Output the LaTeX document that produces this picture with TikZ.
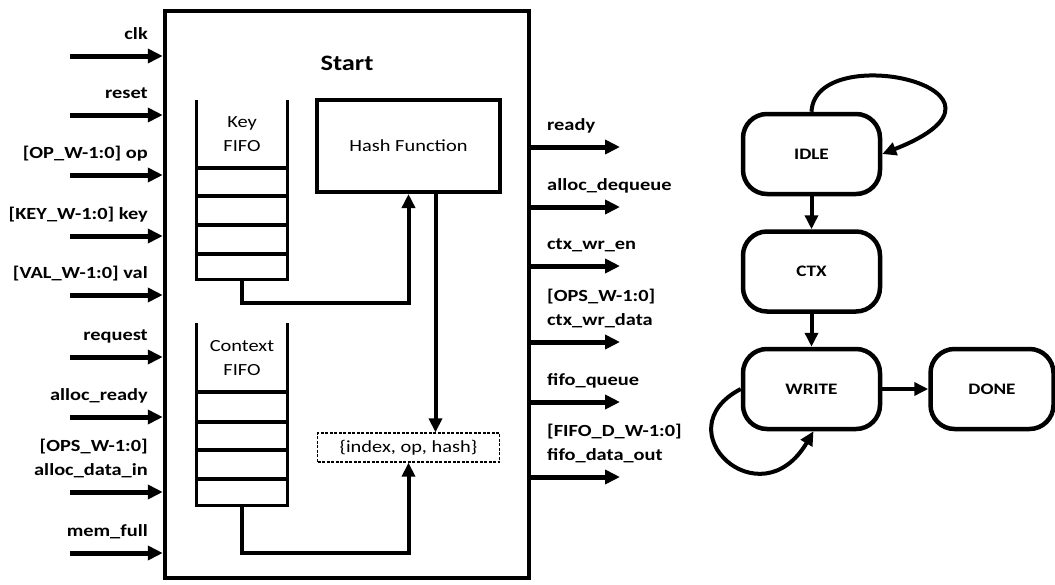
\documentclass[tikz,border=0pt]{standalone}
\usepackage{fontspec}
\setmainfont{Carlito}[FakeStretch=1.2]
\usepackage{tikz}
\usetikzlibrary{arrows.meta,positioning}

\begin{document}
\begin{tikzpicture}[x=1pt, y=-1pt, font=\fontsize{17}{24}\selectfont]
        \tikzstyle{arrow} = [-{Triangle[length=15pt,width=14pt]}, line width=5pt]
        \tikzstyle{wire} = [-{Triangle[length=14pt,width=13pt]}, line width=4pt]
        \tikzstyle{inport} = [anchor=south east, inner sep=0pt, text depth=0pt, align=right, font=\fontsize{17}{24}\selectfont\bfseries]
        \tikzstyle{outport} = [anchor=south west, inner sep=0pt, text depth=0pt, align=left, font=\fontsize{17}{24}\selectfont\bfseries]
        \tikzstyle{fifo} = [rectangle, minimum width=90pt, inner sep=0pt]
        \tikzstyle{fsm} = [rectangle, draw, line width=4.5pt, rounded corners=24pt, minimum width=137pt, minimum height=80pt, font=\fontsize{16}{20}\selectfont\bfseries]
        \useasboundingbox (0,0) rectangle (1055,584);
        % top module
        \node (core) [draw, line width=4.5pt, minimum width=364pt, minimum height=567pt] at (347,294.5) {};
        \node (start) [font=\fontsize{22}{26}\selectfont\bfseries] at (347,63) {Start};
        \node (keyfifo) [fifo, minimum height=179pt] at (242,189.5) {};
        \node (keytext) [align=center] at (242,134) {Key\\FIFO};
        \node (ctxfifo) [fifo, minimum height=182pt] at (242,414) {};
        \node (ctxtext) [align=center] at (242,358) {Context\\FIFO};
        \node (hash) [draw, line width=4pt, minimum width=183pt, minimum height=92pt] at (408.5,146) {Hash Function};
        \node (index) [draw, dash pattern=on 3pt off 1.5pt, line width=1.3pt, minimum width=182pt, minimum height=29pt, inner sep=0pt] at (408.5,447.5) {\{index, op, hash\}};
        \draw[line width=3pt] (keyfifo.north west) |- (keyfifo.south east) -- (keyfifo.north east);
        \draw[line width=3pt] (ctxfifo.north west) |- (ctxfifo.south east) -- (ctxfifo.north east);
        \foreach \y in {168,196,225,254} \draw[line width=4pt] (197,\y) -- (287,\y);
        \foreach \y in {392,422,450,479} \draw[line width=4pt] (197,\y) -- (287,\y);
        \draw[wire] (keyfifo.south) -- ++(0,24) -| (hash.south);
        \draw[wire] ([xshift=27pt]hash.south) -- ([xshift=27pt]index.north);
        \draw[wire] (ctxfifo.south) -- ++(0,48) -| (index.south);
        % inputs
        \coordinate (clkin) at (70,56);
        \coordinate (resetin) at (70,115);
        \coordinate (opin) at (70,175);
        \coordinate (keyin) at (70,236);
        \coordinate (valin) at (70,295);
        \coordinate (reqin) at (70,357);
        \coordinate (areadyin) at (70,417);
        \coordinate (adatain) at (70,492);
        \coordinate (fullin) at (70,553);
        \draw[arrow] (clkin) -- (clkin -| core.west);
        \draw[arrow] (resetin) -- (resetin -| core.west);
        \draw[arrow] (opin) -- (opin -| core.west);
        \draw[arrow] (keyin) -- (keyin -| core.west);
        \draw[arrow] (valin) -- (valin -| core.west);
        \draw[arrow] (reqin) -- (reqin -| core.west);
        \draw[arrow] (areadyin) -- (areadyin -| core.west);
        \draw[arrow] (adatain) -- (adatain -| core.west);
        \draw[arrow] (fullin) -- (fullin -| core.west);
        \node (clk) [inport] at (148,40) {clk};
        \node (reset) [inport] at (148,99) {reset};
        \node (op) [inport] at (148,159) {[OP\_W-1:0] op};
        \node (key) [inport] at (148,220) {[KEY\_W-1:0] key};
        \node (val) [inport] at (148,279) {[VAL\_W-1:0] val};
        \node (req) [inport] at (148,341) {request};
        \node (aready) [inport] at (148,401) {alloc\_ready};
        \node (adata) [inport] at (148,476) {[OPS\_W-1:0]\\alloc\_data\_in};
        \node (full) [inport] at (148,537) {mem\_full};
        % outputs
        \coordinate (readyout) at (620,147);
        \coordinate (deqout) at (620,207);
        \coordinate (wrenout) at (620,266);
        \coordinate (wrdataout) at (620,342);
        \coordinate (queueout) at (620,402);
        \coordinate (fdataout) at (620,477);
        \draw[arrow] (readyout -| core.east) -- (readyout);
        \draw[arrow] (deqout -| core.east) -- (deqout);
        \draw[arrow] (wrenout -| core.east) -- (wrenout);
        \draw[arrow] (wrdataout -| core.east) -- (wrdataout);
        \draw[arrow] (queueout -| core.east) -- (queueout);
        \draw[arrow] (fdataout -| core.east) -- (fdataout);
        \node (ready) [outport] at (547,131) {ready};
        \node (deq) [outport] at (547,191) {alloc\_dequeue};
        \node (wren) [outport] at (547,250) {ctx\_wr\_en};
        \node (wrdata) [outport] at (547,326) {[OPS\_W-1:0]\\ctx\_wr\_data};
        \node (queue) [outport] at (547,386) {fifo\_queue};
        \node (fdata) [outport] at (547,461) {[FIFO\_D\_W-1:0]\\fifo\_data\_out};
        % state machine
        \node (idle) [fsm] at (811.5,154) {IDLE};
        \node (ctx) [fsm, below=33pt of idle] {CTX};
        \node (write) [fsm, below=33pt of ctx] {WRITE};
        \node (done) [fsm, minimum width=123pt, right=46pt of write] {DONE};
        \draw[wire] (idle) -- (ctx);
        \draw[wire] (ctx) -- (write);
        \draw[wire] (write) -- (done);
        \draw[wire] (idle.north) .. controls (815,38) and (1045,90) .. (idle.east);
        \draw[wire] (write.west) .. controls (662,430) and (760,522) .. ([xshift=2pt]write.south);
\end{tikzpicture}
\end{document}
